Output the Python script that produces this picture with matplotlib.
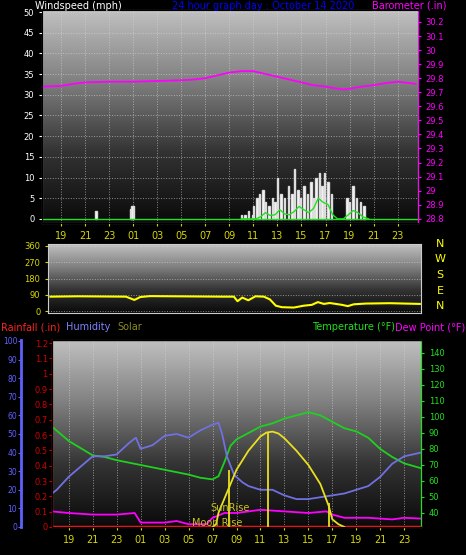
import numpy as np
import matplotlib
matplotlib.use("Agg")
import matplotlib.pyplot as plt
from matplotlib.colors import LinearSegmentedColormap

# ---------------- data (hours; 24 = midnight, 48 = next midnight) ----------------
tick_hours = [19, 21, 23, 25, 27, 29, 31, 33, 35, 37, 39, 41, 43, 45, 47]
tick_labels = ["19", "21", "23", "01", "03", "05", "07", "09", "11", "13", "15", "17", "19", "21", "23"]

baro_t = [17.5, 19, 20, 21, 23, 25, 27, 29, 30, 31, 32, 33, 34, 35, 36, 37, 38, 39, 40, 41, 42, 42.5, 43, 44, 45, 46, 47, 48.5]
baro_v = [29.74, 29.745, 29.76, 29.77, 29.775, 29.775, 29.78, 29.785, 29.79, 29.80, 29.82, 29.84, 29.85, 29.85, 29.83, 29.81, 29.79, 29.77, 29.75, 29.74, 29.725, 29.72, 29.725, 29.74, 29.75, 29.765, 29.775, 29.76]

gust_t = [21.9, 24.8, 24.9, 25.0, 34.0, 34.3, 34.6, 34.9, 35.0, 35.3, 35.5, 35.8, 36.0, 36.3, 36.6, 36.8, 37.0, 37.3, 37.6, 37.9, 38.2, 38.4, 38.7, 38.9, 39.2, 39.5, 39.8, 40.0, 40.2, 40.5, 40.7, 40.9, 41.2, 41.5, 42.8, 43.0, 43.3, 43.6, 43.9, 44.2]
gust_v = [2, 2.5, 3, 3, 1, 1, 2, 1, 3, 5, 6, 7, 4, 3, 5, 4, 10, 6, 5, 8, 6, 12, 7, 5, 8, 6, 9, 5, 10, 11, 8, 11, 9, 6, 5, 4, 8, 5, 4, 3]
speed_t = [34, 35.2, 35.6, 36.0, 36.4, 36.8, 37.2, 37.6, 38.0, 38.4, 38.8, 39.2, 39.6, 40.0, 40.4, 40.8, 41.2, 41.6, 42.0, 42.5, 42.9, 43.3, 43.7, 44.1, 44.6]
speed_v = [0, 0, 0.5, 1.5, 0.8, 1, 2.2, 1.2, 1, 1.8, 3, 2.2, 1.5, 2.5, 5, 4, 3.5, 1, 0, 0, 1, 2, 1.5, 0.5, 0]

dir_t = [17.7, 20, 22, 24, 24.7, 25.2, 26, 28, 30, 32, 33, 33.3, 33.7, 34.2, 34.8, 35.5, 36, 36.5, 37, 38, 38.8, 39.5, 40, 40.5, 41, 42, 42.5, 43, 44, 46, 48.5]
dir_v = [80, 82, 81, 80, 62, 78, 83, 82, 81, 80, 80, 55, 75, 60, 82, 80, 65, 30, 22, 20, 30, 35, 50, 40, 45, 35, 28, 38, 42, 44, 40]

temp_t = [17.6, 19, 21, 22, 23, 25, 27, 29, 30, 31, 31.5, 32, 32.5, 33, 34, 35, 36, 37, 38, 39, 39.5, 40, 41, 42, 43, 44, 45, 46, 47, 48.4]
temp_v = [94, 85, 76, 75, 73, 70, 67, 64, 62, 61, 63, 72, 82, 86, 90, 94, 96, 99, 101, 103, 102, 101, 97, 93, 91, 87, 80, 75, 71, 68]

dew_t = [17.6, 19, 21, 23, 24.5, 25, 27, 28, 29, 30.5, 31, 32, 33, 34, 35, 37, 39, 40.5, 41, 42, 44, 46, 47, 48.4]
dew_v = [41, 40, 39, 39, 40, 34, 34, 35, 33, 33, 37, 40, 40, 41, 42, 41, 40, 41, 39, 37, 37, 36, 37, 36.5]

hum_t = [17.6, 18, 19, 21, 22, 23, 24, 24.6, 25, 26, 27, 28, 29, 30, 31, 31.5, 31.8, 32.2, 32.8, 33.5, 34, 35, 36, 37, 38, 39, 40, 41, 42, 43, 44, 45, 46, 47, 48.4]
hum_v = [18, 20, 27, 38, 38, 39, 45, 48, 42, 44, 49, 50, 48, 52, 55, 56, 50, 38, 28, 24, 22, 20, 20, 17, 15, 15, 16, 17, 18, 20, 22, 27, 34, 38, 40]

solar_t = [31, 31.3, 31.5, 32, 32.5, 33, 34, 35, 35.5, 36, 36.5, 37, 38, 39, 40, 40.7, 41, 41.5, 42]
solar_v = [0, 3, 15, 30, 45, 60, 80, 95, 99, 100, 98, 93, 80, 65, 45, 22, 8, 3, 0]
solar_spike_t = [32.4, 35.6, 40.7]
solar_spike_v = [60, 100, 25]

rain_t = [17.6, 48.4]
rain_v = [0, 0]

# ---------------- style helpers ----------------
W, H = 466, 555
fig = plt.figure(figsize=(W / 100, H / 100), dpi=100, facecolor="black")
bg_cmap = LinearSegmentedColormap.from_list("bg", ["#0a0a0a", "#333333", "#808080", "#c0c0c0"])

def add_ax(x0, y0, x1, y1):
    return fig.add_axes([x0 / W, 1 - y1 / H, (x1 - x0) / W, (y1 - y0) / H])

def background(ax):
    grad = np.linspace(0, 1, 256).reshape(-1, 1)
    ax.imshow(grad, cmap=bg_cmap, aspect="auto", extent=[0, 1, 0, 1], origin="lower",
              transform=ax.transAxes, zorder=0)

def style(ax, xt=True):
    ax.set_facecolor("black")
    for s in ax.spines.values():
        s.set_color("#cccccc")
    ax.grid(True, color="#d8d8d8", linestyle=":", linewidth=0.7, alpha=0.6)
    ax.set_xticks(tick_hours)
    ax.set_xticklabels(tick_labels if xt else [])
    ax.tick_params(axis="x", colors="#d8d800", labelsize=7, length=2)

fs = 7
# ---------------- panel 1: wind & barometer ----------------
ax1 = add_ax(42, 10, 418, 223)
background(ax1)
style(ax1)
ax1.set_xlim(17.4, 48.7)
ax1.set_ylim(-1, 50.5)
ax1.set_yticks(range(0, 51, 5))
ax1.tick_params(axis="y", colors="white", labelsize=6, length=2)
ax1.bar(gust_t, gust_v, width=0.12, color="white", edgecolor="#dddddd", zorder=3)
ax1.plot(speed_t, speed_v, color="#20e020", lw=1.0, zorder=4)
ax1.axhline(0, color="#20e020", lw=1.0, zorder=4)
ax1b = ax1.twinx()
ax1b.set_ylim(28.77, 30.285)
bt = np.round(np.arange(28.8, 30.25, 0.1), 1)
ax1b.set_yticks(bt)
ax1b.set_yticklabels([f"{v:g}" for v in bt])
ax1b.tick_params(axis="y", colors="#ff00ff", labelsize=6, length=2)
ax1b.spines["right"].set_color("#ff00ff")
ax1b.plot(baro_t, baro_v, color="#ff00ff", lw=1.3)
fig.text(35 / W, 1 - 6 / H, "Windspeed (mph)", color="white", fontsize=fs, va="center")
fig.text(172 / W, 1 - 6 / H, "24 hour graph day : October 14 2020", color="#0000ff", fontsize=fs, va="center")
fig.text(372 / W, 1 - 6 / H, "Barometer (.in)", color="#ff00ff", fontsize=fs, va="center")

# ---------------- panel 2: wind direction ----------------
ax2 = add_ax(48, 244, 421, 313)
background(ax2)
ax2.set_facecolor("black")
for s in ax2.spines.values():
    s.set_color("#cccccc")
ax2.set_xlim(17.5, 48.6)
ax2.set_ylim(-10, 370)
ax2.set_yticks([0, 90, 180, 270, 360])
ax2.set_xticks([])
ax2.grid(True, axis="y", color="#d8d8d8", linestyle=":", linewidth=0.7, alpha=0.6)
ax2.tick_params(axis="y", colors="#d8d800", labelsize=6, length=2)
ax2.plot(dir_t, dir_v, color="#ffff00", lw=1.5)
for i, lab in enumerate(["N", "W", "S", "E", "N"]):
    fig.text(440 / W, 1 - (244 + i * 15.5) / H, lab, color="#ffff00", fontsize=8, ha="center", va="center")

fig.text(1 / W, 1 - 327 / H, "Rainfall (.in)", color="#ff2020", fontsize=fs, va="center")
fig.text(66 / W, 1 - 327 / H, "Humidity", color="#8080ff", fontsize=fs, va="center")
fig.text(117 / W, 1 - 327 / H, "Solar", color="#8c8c20", fontsize=fs, va="center")
fig.text(312 / W, 1 - 327 / H, "Temperature (°F)", color="#20e020", fontsize=fs, va="center")
fig.text(465 / W, 1 - 327 / H, "Dew Point (°F)", color="#ff00ff", fontsize=fs, va="center", ha="right")

# ---------------- panel 3 ----------------
ax3 = add_ax(52, 340, 421, 527)
background(ax3)
style(ax3)
ax3.set_xlim(17.6, 48.4)
ax3.set_ylim(31.25, 148.1)
ax3.set_yticks([])
ax3.spines["left"].set_color("#ff3030")
ax3.plot(temp_t, temp_v, color="#20d020", lw=1.3, zorder=3)
ax3.plot(dew_t, dew_v, color="#ff00ff", lw=1.3, zorder=3)
axT = ax3.twinx()
axT.set_ylim(31.25, 148.1)
axT.set_yticks(range(40, 141, 10))
axT.tick_params(axis="y", colors="#20e020", labelsize=6, length=2)
axT.spines["right"].set_color("#20e020")
axT.spines["left"].set_color("#ff3030")

axH = ax3.twinx()
axH.set_ylim(0, 100.5)
axH.plot(hum_t, hum_v, color="#7070e0", lw=1.3)
axH.yaxis.tick_left()
axH.spines["left"].set_position(("outward", 22))
axH.spines["left"].set_color("#6060ff")
axH.spines["left"].set_linewidth(2)
axH.spines["right"].set_visible(False)
axH.set_yticks(range(0, 101, 10))
axH.tick_params(axis="y", colors="#6060ff", labelsize=5.5, length=2, pad=1,
                left=True, labelleft=True, right=False, labelright=False)

axR = ax3.twinx()
axR.set_ylim(0, 1.22)
axR.yaxis.tick_left()
axR.spines["right"].set_visible(False)
axR.spines["left"].set_color("#ff3030")
rt = np.round(np.arange(0, 1.21, 0.1), 1)
axR.set_yticks(rt)
axR.set_yticklabels([f"{v:g}" for v in rt])
axR.tick_params(axis="y", colors="#d00000", labelsize=6, length=2, pad=1,
                left=True, labelleft=True, right=False, labelright=False)
axR.plot(rain_t, rain_v, color="#ff1010", lw=2.5, zorder=5)

axS = ax3.twinx()
axS.set_ylim(0, 196)
axS.set_yticks([])
axS.spines["right"].set_visible(False)
axS.plot(solar_t, solar_v, color="#e8e020", lw=1.3)
axS.vlines(solar_spike_t, 0, solar_spike_v, color="#e8e020", lw=1.3)
axS.text(30.8, 17, "SunRise", color="#c8c020", fontsize=7)
axS.text(29.3, 1, "Moon Rise", color="#c8c020", fontsize=7)

fig.savefig("out.png", dpi=100, facecolor="black")
